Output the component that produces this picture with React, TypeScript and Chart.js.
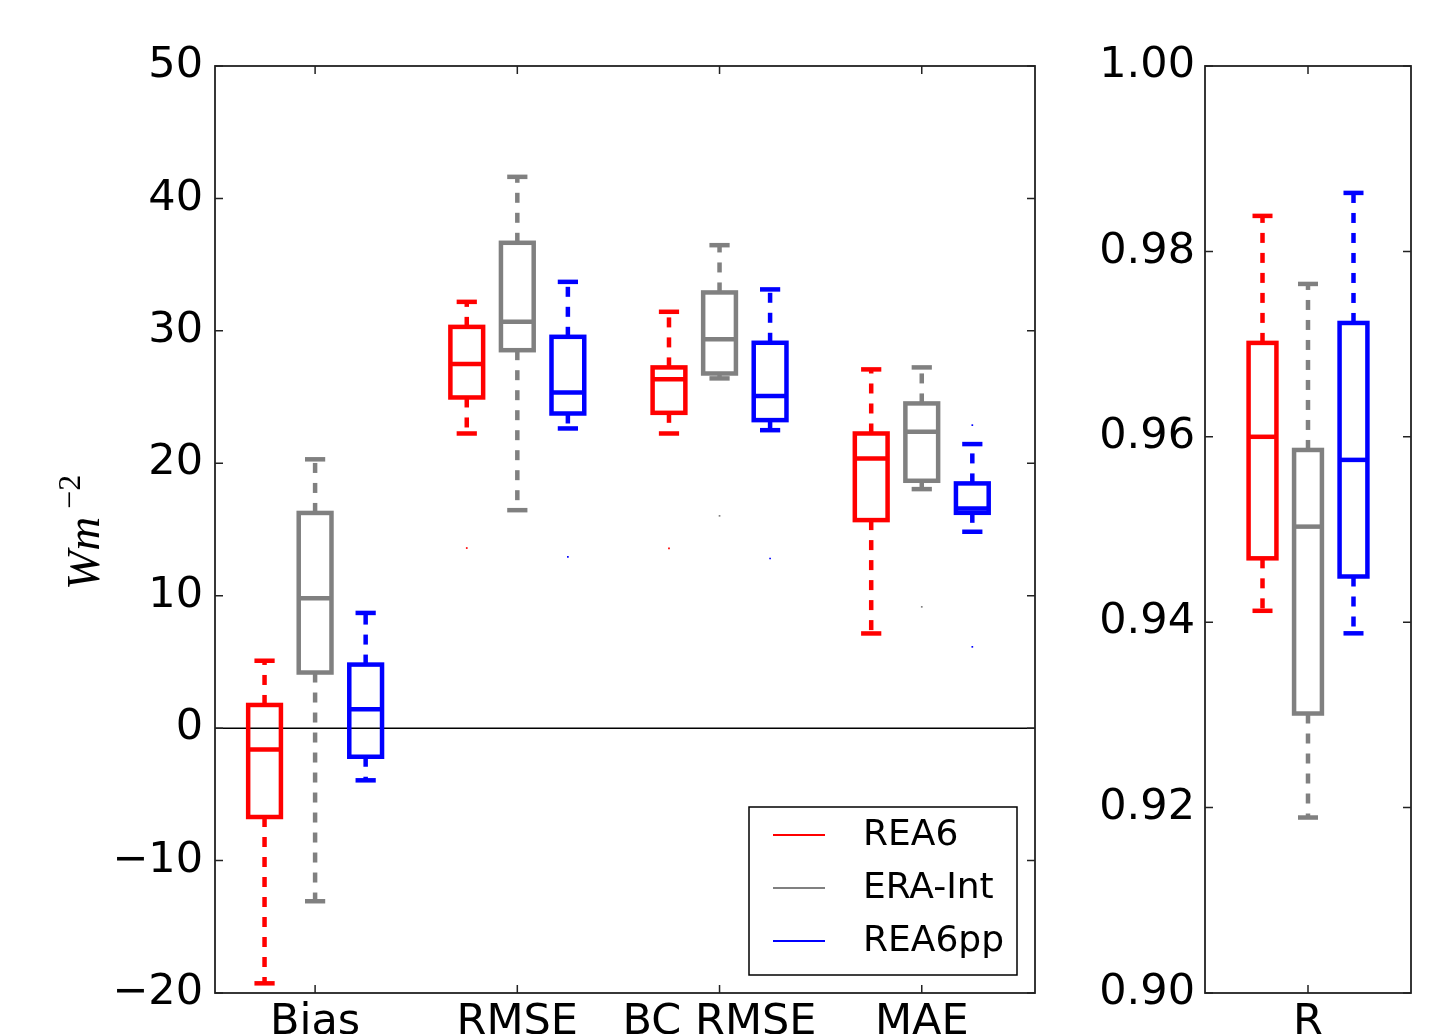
import React, { useEffect, useRef } from 'react';
import { Chart, registerables } from 'chart.js';
Chart.register(...registerables);

// ---------------- data ----------------
const categories = ['Bias', 'RMSE', 'BC RMSE', 'MAE'];
const rCategories = ['R'];
const seriesNames = ['REA6', 'ERA-Int', 'REA6pp'];
const seriesColors = ['#ff0000', '#808080', '#0000ff'];
const seriesOffsets = [-0.25, 0, 0.25];

// [whisker low, q1, median, q3, whisker high] per category
const rea6Stats = [
  [-19.27, -6.71, -1.62, 1.75, 5.09],
  [22.25, 24.97, 27.49, 30.3, 32.19],
  [22.25, 23.81, 26.35, 27.24, 31.44],
  [7.15, 15.71, 20.36, 22.25, 27.09],
];
const eraIntStats = [
  [-13.07, 4.2, 9.81, 16.25, 20.3],
  [16.46, 28.54, 30.68, 36.65, 41.63],
  [26.41, 26.78, 29.37, 32.9, 36.47],
  [18.05, 18.68, 22.38, 24.52, 27.24],
];
const rea6ppStats = [
  [-3.94, -2.16, 1.43, 4.8, 8.7],
  [22.63, 23.76, 25.34, 29.55, 33.7],
  [22.5, 23.26, 25.09, 29.1, 33.13],
  [14.83, 16.26, 16.59, 18.48, 21.45],
];
const rea6Outliers = [[], [13.6], [13.57], []];
const eraIntOutliers = [[], [], [16.03], [9.16]];
const rea6ppOutliers = [[], [12.94], [12.81], [22.88, 6.14]];

const rRea6Stats = [[0.94123, 0.94689, 0.96, 0.97013, 0.98383]];
const rEraIntStats = [[0.91893, 0.93015, 0.95031, 0.95858, 0.97649]];
const rRea6ppStats = [[0.9388, 0.94493, 0.95751, 0.97228, 0.98631]];
const rOutliers = [[[]], [[]], [[]]] as number[][][];

const leftYTicks = [-20, -10, 0, 10, 20, 30, 40, 50];
const rightYTicks = [0.9, 0.92, 0.94, 0.96, 0.98, 1.0];

// ---------------- layout ----------------
const H = 1060;
const LEFT_W = 1060;
const RIGHT_X = 1060;
const RIGHT_W = 392;
const PLOT_TOP = 66;
const PLOT_BOTTOM = 993;
const FONT = '"DejaVu Sans", sans-serif';
const TICK_FONT_SIZE = 43;

function buildDatasets(statsBySeries: number[][][], outliersBySeries: number[][][]) {
  return statsBySeries.map((stats, s) => ({
    label: seriesNames[s],
    borderColor: seriesColors[s],
    backgroundColor: seriesColors[s],
    pointStyle: 'rect',
    pointRadius: 1.2,
    pointBorderWidth: 0,
    boxes: stats.map((st, i) => ({ pos: i + 1 + seriesOffsets[s], stats: st })),
    data: outliersBySeries[s].flatMap((vals, i) =>
      vals.map((v) => ({ x: i + 1 + seriesOffsets[s], y: v }))
    ),
  }));
}

const boxPlugin = {
  id: 'boxes',
  beforeDatasetsDraw(chart: any) {
    const { ctx, chartArea, scales } = chart;
    const x = scales.x;
    const y = scales.y;
    const o = chart.options.plugins.boxes;
    ctx.save();
    if (o.zeroLine) {
      const zy = y.getPixelForValue(0);
      ctx.strokeStyle = '#000';
      ctx.lineWidth = 1.5;
      ctx.beginPath();
      ctx.moveTo(chartArea.left, zy);
      ctx.lineTo(chartArea.right, zy);
      ctx.stroke();
    }
    const line = (x1: number, y1: number, x2: number, y2: number) => {
      ctx.beginPath();
      ctx.moveTo(x1, y1);
      ctx.lineTo(x2, y2);
      ctx.stroke();
    };
    chart.data.datasets.forEach((ds: any) => {
      ds.boxes.forEach((b: any) => {
        const xc = x.getPixelForValue(b.pos);
        const hw = (x.getPixelForValue(b.pos + o.boxWidth / 2) - x.getPixelForValue(b.pos - o.boxWidth / 2)) / 2;
        const cw = (x.getPixelForValue(b.pos + o.capWidth / 2) - x.getPixelForValue(b.pos - o.capWidth / 2)) / 2;
        const [lo, q1, med, q3, hi] = b.stats.map((v: number) => y.getPixelForValue(v));
        ctx.strokeStyle = ds.borderColor;
        ctx.lineWidth = 4.5;
        ctx.lineJoin = 'miter';
        ctx.lineCap = 'butt';
        ctx.setLineDash([10, 10]);
        line(xc, q3, xc, hi);
        line(xc, q1, xc, lo);
        ctx.setLineDash([]);
        line(xc - cw, hi, xc + cw, hi);
        line(xc - cw, lo, xc + cw, lo);
        ctx.strokeRect(xc - hw, q3, 2 * hw, q1 - q3);
        line(xc - hw, med, xc + hw, med);
      });
    });
    ctx.restore();
  },
  afterDraw(chart: any) {
    const { ctx, chartArea, scales } = chart;
    const x = scales.x;
    const y = scales.y;
    const o = chart.options.plugins.boxes;
    const { left, right, top, bottom } = chartArea;
    ctx.save();
    ctx.strokeStyle = '#222';
    ctx.lineWidth = 1.8;
    ctx.strokeRect(left, top, right - left, bottom - top);
    ctx.lineWidth = 1.5;
    const tl = 8;
    y.ticks.forEach((t: any) => {
      const py = y.getPixelForValue(t.value);
      ctx.beginPath();
      ctx.moveTo(left, py);
      ctx.lineTo(left + tl, py);
      ctx.moveTo(right, py);
      ctx.lineTo(right - tl, py);
      ctx.stroke();
    });
    x.ticks.forEach((t: any) => {
      const px = x.getPixelForValue(t.value);
      ctx.beginPath();
      ctx.moveTo(px, bottom);
      ctx.lineTo(px, bottom - tl);
      ctx.moveTo(px, top);
      ctx.lineTo(px, top + tl);
      ctx.stroke();
    });

    if (o.yLabel) {
      ctx.save();
      ctx.translate(99, 590);
      ctx.rotate(-Math.PI / 2);
      ctx.fillStyle = '#000';
      ctx.textBaseline = 'alphabetic';
      ctx.textAlign = 'left';
      ctx.font = 'italic 47px "Liberation Serif", serif';
      ctx.fillText('Wm', 0, 0);
      const w = ctx.measureText('Wm').width;
      ctx.font = '32px "Liberation Serif", serif';
      ctx.fillText('\u22122', w + 8, -19);
      ctx.restore();
    }

    if (o.legend) {
      const bw = 268;
      const bh = 168;
      const bx = right - 18 - bw;
      const by = bottom - 18 - bh;
      ctx.fillStyle = '#fff';
      ctx.fillRect(bx, by, bw, bh);
      ctx.strokeStyle = '#000';
      ctx.lineWidth = 1.5;
      ctx.strokeRect(bx, by, bw, bh);
      ctx.font = '36px ' + FONT;
      ctx.textBaseline = 'middle';
      ctx.textAlign = 'left';
      chart.data.datasets.forEach((ds: any, i: number) => {
        const ly = by + 28 + i * 53;
        ctx.strokeStyle = ds.borderColor;
        ctx.lineWidth = 2;
        ctx.beginPath();
        ctx.moveTo(bx + 24, ly);
        ctx.lineTo(bx + 76, ly);
        ctx.stroke();
        ctx.fillStyle = '#000';
        ctx.fillText(ds.label, bx + 114, ly + 1);
      });
    }
    ctx.restore();
  },
};

function makeConfig(opts: {
  yAxisWidth: number;
  rightPad: number;
  xMin: number;
  xMax: number;
  cats: string[];
  yMin: number;
  yMax: number;
  yTicks: number[];
  yFmt: (v: number) => string;
  datasets: any[];
  boxWidth: number;
  capWidth: number;
  zeroLine: boolean;
  legend: boolean;
  yLabel: boolean;
  yPad: number;
}) {
  return {
    type: 'scatter',
    data: { datasets: opts.datasets },
    plugins: [boxPlugin],
    options: {
      responsive: false,
      animation: false,
      devicePixelRatio: 1,
      layout: { padding: { top: PLOT_TOP, right: opts.rightPad, left: 0, bottom: 0 } },
      plugins: {
        legend: { display: false },
        tooltip: { enabled: false },
        boxes: {
          boxWidth: opts.boxWidth,
          capWidth: opts.capWidth,
          zeroLine: opts.zeroLine,
          legend: opts.legend,
          yLabel: opts.yLabel,
        },
      },
      scales: {
        x: {
          type: 'linear',
          min: opts.xMin,
          max: opts.xMax,
          grid: { display: false, drawTicks: false },
          border: { display: false },
          afterBuildTicks: (s: any) => {
            s.ticks = opts.cats.map((_, i) => ({ value: i + 1 }));
          },
          afterFit: (s: any) => {
            s.height = H - PLOT_BOTTOM;
          },
          ticks: {
            autoSkip: false,
            maxRotation: 0,
            minRotation: 0,
            padding: 4,
            color: '#000',
            font: { family: FONT, size: TICK_FONT_SIZE },
            callback: (v: number) => opts.cats[Math.round(v) - 1] ?? '',
          },
        },
        y: {
          type: 'linear',
          min: opts.yMin,
          max: opts.yMax,
          grid: { display: false, drawTicks: false },
          border: { display: false },
          afterBuildTicks: (s: any) => {
            s.ticks = opts.yTicks.map((v) => ({ value: v }));
          },
          afterFit: (s: any) => {
            s.width = opts.yAxisWidth;
          },
          ticks: {
            autoSkip: false,
            padding: opts.yPad,
            color: '#000',
            font: { family: FONT, size: TICK_FONT_SIZE },
            callback: (v: number) => opts.yFmt(v),
          },
        },
      },
    },
  };
}

function ChartCanvas({ config, width, left }: { config: any; width: number; left: number }) {
  const ref = useRef<HTMLCanvasElement | null>(null);
  useEffect(() => {
    if (!ref.current) return;
    const chart = new Chart(ref.current, config);
    return () => chart.destroy();
  }, [config]);
  return (
    <canvas
      ref={ref}
      width={width}
      height={H}
      style={{ position: 'fixed', left, top: 0, width, height: H, display: 'block' }}
    />
  );
}

const leftConfig = makeConfig({
  yAxisWidth: 215,
  rightPad: LEFT_W - 1035,
  xMin: 0.505,
  xMax: 4.56,
  cats: categories,
  yMin: -20,
  yMax: 50,
  yTicks: leftYTicks,
  yFmt: (v) => String(v).replace('-', '\u2212'),
  datasets: buildDatasets([rea6Stats, eraIntStats, rea6ppStats], [rea6Outliers, eraIntOutliers, rea6ppOutliers]),
  boxWidth: 0.162,
  capWidth: 0.1,
  zeroLine: true,
  legend: true,
  yLabel: true,
  yPad: 12,
});

const rightConfig = makeConfig({
  yAxisWidth: 1205 - RIGHT_X,
  rightPad: RIGHT_X + RIGHT_W - 1411,
  xMin: 0.434,
  xMax: 1.566,
  cats: rCategories,
  yMin: 0.9,
  yMax: 1.0,
  yTicks: rightYTicks,
  yFmt: (v) => v.toFixed(2),
  datasets: buildDatasets([rRea6Stats, rEraIntStats, rRea6ppStats], rOutliers),
  boxWidth: 0.153,
  capWidth: 0.11,
  zeroLine: false,
  legend: false,
  yLabel: false,
  yPad: 10,
});

export default function App() {
  return (
    <div>
      <ChartCanvas config={leftConfig} width={LEFT_W} left={0} />
      <ChartCanvas config={rightConfig} width={RIGHT_W} left={RIGHT_X} />
    </div>
  );
}
